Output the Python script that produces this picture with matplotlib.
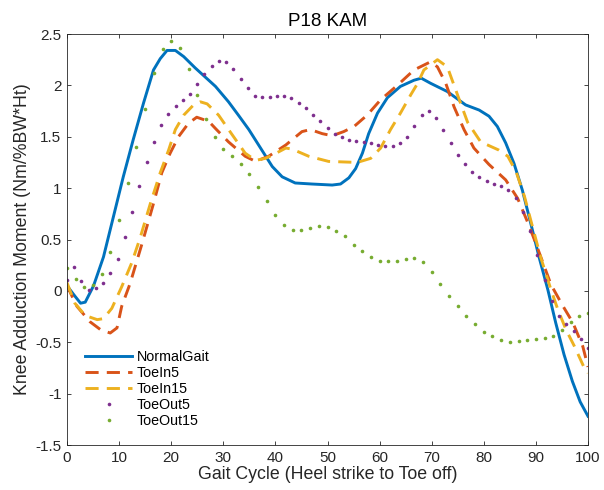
import numpy as np
import matplotlib
matplotlib.use("Agg")
import matplotlib.pyplot as plt

# ---------------- data ----------------
normal_x = [0, 1.5, 2.6, 3.5, 5.1, 7, 8.9, 10.8, 12.7, 14.7, 16.6, 17.9, 19.2, 20.8, 22.4,
            24.6, 28.5, 31, 32.9, 34.9, 37.4, 39.4, 41.3, 43.8, 47, 50.9, 52.5, 54.1, 55.4,
            56.7, 57.9, 59.6, 61.5, 64, 66.6, 68, 69.8, 73, 76.5, 79.1, 81, 82.6, 84.2, 85.8,
            87.4, 89, 90.6, 92.3, 93.8, 95.4, 97, 98.5, 100]
normal_y = [0.05, -0.05, -0.12, -0.11, 0.05, 0.33, 0.72, 1.11, 1.47, 1.83, 2.15, 2.26, 2.34, 2.34, 2.28,
            2.17, 1.99, 1.84, 1.71, 1.57, 1.37, 1.21, 1.11, 1.05, 1.04, 1.03, 1.04, 1.10, 1.19,
            1.34, 1.53, 1.73, 1.88, 1.99, 2.05, 2.07, 2.02, 1.94, 1.81, 1.76, 1.70, 1.60, 1.44, 1.24,
            0.98, 0.66, 0.33, 0.01, -0.31, -0.62, -0.88, -1.08, -1.22]

toein5_x = [0, 1.9, 4.4, 6.5, 8.3, 9.6, 10.5, 12.1, 14.4, 16.6, 18.2, 19.8, 21.4, 23.3, 24.9,
            27.2, 28.5, 31, 34.2, 36.2, 38.7, 42, 45.1, 46.7, 49, 50.9, 53.1, 55.1, 57.6, 60.2,
            63.4, 66.6, 69.8, 71.1, 72.7, 74.3, 76.2, 78.1, 81, 84.2, 86.5, 88.4, 90, 92.9,
            95.1, 97.1, 99, 100]
toein5_y = [0.05, -0.15, -0.30, -0.38, -0.41, -0.36, -0.15, 0.07, 0.46, 0.85, 1.15, 1.34, 1.50, 1.63, 1.69,
            1.65, 1.58, 1.45, 1.31, 1.26, 1.31, 1.42, 1.55, 1.57, 1.53, 1.51, 1.55, 1.60, 1.71, 1.86,
            2.00, 2.15, 2.23, 2.18, 2.02, 1.79, 1.57, 1.39, 1.23, 1.08, 0.90, 0.67, 0.46, 0.06,
            -0.14, -0.31, -0.54, -0.74]

toein15_x = [0, 1.5, 3.5, 5.8, 7, 8.6, 10.5, 12.4, 14, 16, 17.9, 19.5, 20.8, 22.4, 24.3, 25.6,
             26.9, 29.1, 31.7, 34.2, 36.2, 38.1, 39.4, 42, 43.2, 46.4, 50.2, 55.7, 58.3, 60.2,
             62.1, 64, 66, 67.3, 68.5, 71.1, 73, 75.3, 76.9, 79.4, 82.9, 84.6, 86.2, 87.8, 89,
             90.9, 92.9, 94.2, 95.8, 97.4, 99.2, 100]
toein15_y = [0.08, -0.12, -0.24, -0.28, -0.27, -0.17, 0.04, 0.27, 0.51, 0.85, 1.15, 1.37, 1.57, 1.71, 1.81, 1.84,
             1.82, 1.71, 1.52, 1.34, 1.27, 1.29, 1.32, 1.39, 1.38, 1.31, 1.26, 1.25, 1.29, 1.39,
             1.57, 1.73, 1.91, 2.02, 2.15, 2.25, 2.18, 1.86, 1.64, 1.45, 1.37, 1.31, 1.16, 0.92, 0.69,
             0.33, 0.01, -0.18, -0.38, -0.54, -0.74, -0.80]

# ToeOut5: 73 samples evenly spread over 0..100 % gait cycle
toeout5_y = [0.11, 0.23, 0.10, 0.01, 0.03, 0.08, 0.17, 0.31, 0.52, 0.77,
             1.02, 1.25, 1.45, 1.61, 1.72, 1.80, 1.86, 1.92, 2.01, 2.11,
             2.19, 2.24, 2.23, 2.16, 2.06, 1.97, 1.90, 1.89, 1.89, 1.90,
             1.90, 1.88, 1.83, 1.78, 1.71, 1.65, 1.59, 1.53, 1.50, 1.47,
             1.46, 1.45, 1.44, 1.42, 1.41, 1.41, 1.44, 1.50, 1.60, 1.71,
             1.75, 1.68, 1.57, 1.44, 1.32, 1.23, 1.16, 1.11, 1.07, 1.04,
             1.02, 0.98, 0.90, 0.77, 0.58, 0.35, 0.11, -0.10, -0.24, -0.32,
             -0.39, -0.47, -0.56]
toeout5_x = np.linspace(0, 100, len(toeout5_y))

# ToeOut15: 61 samples evenly spread over 0..100 % gait cycle
toeout15_y = [0.22, 0.12, 0.04, 0.06, 0.16, 0.38, 0.69, 1.05, 1.40, 1.77,
              2.12, 2.35, 2.43, 2.36, 2.16, 1.91, 1.67, 1.50, 1.38, 1.31,
              1.23, 1.14, 1.01, 0.87, 0.74, 0.64, 0.59, 0.59, 0.61, 0.63,
              0.62, 0.58, 0.53, 0.45, 0.39, 0.33, 0.29, 0.29, 0.29, 0.31,
              0.32, 0.28, 0.18, 0.07, -0.05, -0.15, -0.24, -0.32, -0.40, -0.44,
              -0.48, -0.50, -0.49, -0.48, -0.47, -0.46, -0.44, -0.38, -0.30, -0.24,
              -0.22]
toeout15_x = np.linspace(0, 100, len(toeout15_y))

labels = ["NormalGait", "ToeIn5", "ToeIn15", "ToeOut5", "ToeOut15"]
xticks = [0, 10, 20, 30, 40, 50, 60, 70, 80, 90, 100]
yticks = [-1.5, -1, -0.5, 0, 0.5, 1, 1.5, 2, 2.5]

# ---------------- styling ----------------
plt.rcParams['font.family'] = ['Liberation Sans', 'DejaVu Sans']
plt.rcParams['axes.unicode_minus'] = False

c_blue = '#0072BD'
c_orange = '#D95319'
c_yellow = '#EDB120'
c_purple = '#7E2F8E'
c_green = '#77AC30'
axcol = '#262626'

fig = plt.figure(figsize=(6.04, 4.90), dpi=100)
ax = fig.add_axes([67 / 604, 1 - 445 / 490, 521 / 604, 411 / 490])

ax.plot(normal_x, normal_y, color=c_blue, lw=2.1, label=labels[0], solid_joinstyle='round')
ax.plot(toein5_x, toein5_y, color=c_orange, lw=2.1, dashes=(4.5, 2.8), label=labels[1])
ax.plot(toein15_x, toein15_y, color=c_yellow, lw=2.1, dashes=(4.5, 2.8), label=labels[2])
ax.plot(toeout5_x, toeout5_y, color=c_purple, ls='none', marker='o', ms=2.6,
        mew=0, label=labels[3])
ax.plot(toeout15_x, toeout15_y, color=c_green, ls='none', marker='o', ms=2.6,
        mew=0, label=labels[4])

ax.set_xlim(0, 100)
ax.set_ylim(-1.5, 2.5)
ax.set_xticks(xticks)
ax.set_yticks(yticks)
ax.set_yticklabels([('%g' % v) for v in yticks])
ax.tick_params(direction='in', top=True, right=True, length=3, width=0.6,
               color=axcol, labelcolor=axcol, labelsize=11, pad=4)
for s in ax.spines.values():
    s.set_color(axcol)
    s.set_linewidth(0.6)

ax.set_title("P18 KAM", fontsize=13.5, color='black', pad=6)
ax.set_xlabel("Gait Cycle (Heel strike to Toe off)", fontsize=12.8, color=axcol, labelpad=1)
ax.set_ylabel("Knee Adduction Moment (Nm/%BW*Ht)", fontsize=12.8, color=axcol, labelpad=3)

leg = ax.legend(loc='upper left', bbox_to_anchor=((85 - 67) / 521, (445 - 350) / 411),
                frameon=False, fontsize=10.3, handlelength=3.3, handletextpad=0.3,
                labelspacing=0.14, borderpad=0, borderaxespad=0, numpoints=1)
for t in leg.get_texts():
    t.set_color('black')

fig.savefig("out.png", dpi=100)
